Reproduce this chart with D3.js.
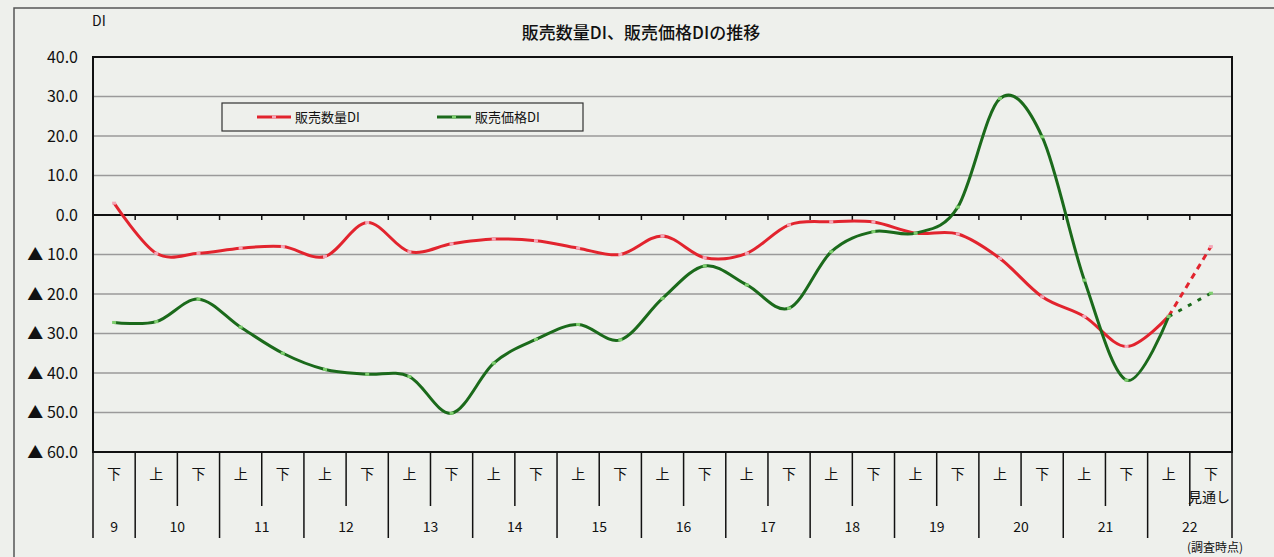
<!DOCTYPE html>
<html><head><meta charset="utf-8">
<script src="https://cdn.jsdelivr.net/npm/d3@7/dist/d3.min.js"></script>
<style>
body{margin:0;background:#eef0ec;}
svg{display:block}
text{font-family:"Noto Sans CJK JP","Liberation Sans",sans-serif;fill:#111;}
</style>
</head><body><svg id="c" width="1274" height="557"></svg>
<script>
const categories = ["9下","10上","10下","11上","11下","12上","12下","13上","13下","14上","14下","15上","15下",
  "16上","16下","17上","17下","18上","18下","19上","19下","20上","20下","21上","21下","22上","22下"];
const volumeDI = [3.0,-9.7,-9.7,-8.4,-8.0,-10.5,-1.9,-9.3,-7.3,-6.1,-6.5,-8.4,-10.0,
  -5.3,-10.8,-9.7,-2.5,-1.7,-1.8,-4.6,-4.8,-11.0,-20.7,-25.7,-33.3,-25.6,-8.0];
const priceDI = [-27.2,-27.0,-21.3,-28.4,-35.0,-39.1,-40.3,-40.9,-50.2,-37.5,-31.5,-27.7,-31.6,
  -21.1,-12.9,-17.7,-23.6,-9.3,-4.2,-4.6,2.0,29.5,19.8,-16.5,-41.8,-25.7,-19.8];
const yTicks = [40,30,20,10,0,-10,-20,-30,-40,-50,-60];
const seriesNames = ["販売数量DI","販売価格DI"];
const titleText = "販売数量DI、販売価格DIの推移";
const forecastLabel = "見通し";
const xAxisNote = "(調査時点)";

const svg = d3.select("#c");
const L = 93, R = 1232, T = 57, B = 452;
const x = d3.scaleBand().domain(categories).range([L, R]);
const bw = x.bandwidth();
const cx = c => x(c) + bw / 2;
const y = d3.scaleLinear().domain([-60, 40]).range([B, T]);

// outer frame
svg.append("rect").attr("x", 14).attr("y", 8).attr("width", 1300).attr("height", 600)
  .attr("fill", "#eef0ec").attr("stroke", "#555").attr("stroke-width", 1.5);

// title
svg.append("text").attr("x", 641).attr("y", 39).attr("text-anchor", "middle")
  .attr("font-size", 17).attr("font-weight", 500).text(titleText);
svg.append("text").attr("x", 92).attr("y", 26).attr("font-size", 14).text("DI");

// gridlines
svg.append("g").selectAll("line").data(yTicks.filter(v => v !== 0 && v !== 40 && v !== -60)).join("line")
  .attr("x1", L).attr("x2", R).attr("y1", d => y(d)).attr("y2", d => y(d))
  .attr("stroke", "#9a9a9a").attr("stroke-width", 1.5);

// y axis labels
const yAxis = d3.axisLeft(y).tickValues(yTicks).tickSize(0).tickPadding(15)
  .tickFormat(v => v < 0 ? "▲ " + Math.abs(v).toFixed(1) : v.toFixed(1));
const ga = svg.append("g").attr("transform", `translate(${L},0)`).call(yAxis);
ga.select(".domain").remove();
ga.selectAll("text").attr("font-size", 16).attr("font-family", "'Liberation Sans',sans-serif").attr("fill", "#111");

// plot border
svg.append("rect").attr("x", L).attr("y", T).attr("width", R - L).attr("height", B - T)
  .attr("fill", "none").attr("stroke", "#111").attr("stroke-width", 2);

// zero line with ticks
svg.append("line").attr("x1", L).attr("x2", R).attr("y1", y(0)).attr("y2", y(0))
  .attr("stroke", "#111").attr("stroke-width", 2);
const bounds = categories.map(c => x(c)).concat([R]);
svg.append("g").selectAll("line").data(bounds.slice(1, -1)).join("line")
  .attr("x1", d => d).attr("x2", d => d).attr("y1", y(0)).attr("y2", y(0) + 5)
  .attr("stroke", "#111").attr("stroke-width", 1.5);

// category axis below
const yearOf = c => c.slice(0, -1);
const halfOf = c => c.slice(-1);
svg.append("g").selectAll("line").data(bounds).join("line")
  .attr("x1", d => d).attr("x2", d => d).attr("y1", B)
  .attr("y2", (d, i) => {
    if (i === 0 || i === categories.length) return 538;
    return yearOf(categories[i - 1]) !== yearOf(categories[i]) ? 538 : 506;
  })
  .attr("stroke", "#111").attr("stroke-width", 1.5);
svg.append("g").selectAll("text").data(categories).join("text")
  .attr("x", d => cx(d)).attr("y", 479).attr("text-anchor", "middle").attr("font-size", 14)
  .text(d => halfOf(d));
const years = Array.from(new Set(categories.map(yearOf)));
svg.append("g").selectAll("text").data(years).join("text")
  .attr("x", yr => d3.mean(categories.filter(c => yearOf(c) === yr), cx))
  .attr("y", 532).attr("text-anchor", "middle").attr("font-size", 14)
  .attr("font-family", "'Liberation Sans',sans-serif").text(d => d);
svg.append("text").attr("x", 1230).attr("y", 502).attr("text-anchor", "end").attr("font-size", 14).text(forecastLabel);
svg.append("text").attr("x", 1187).attr("y", 552).attr("font-size", 12).text(xAxisNote);

// lines
const line = d3.line().x(d => cx(d.c)).y(d => y(d.v)).curve(d3.curveCardinal.tension(0));
function drawSeries(vals, color, markColor, dash) {
  const pts = categories.map((c, i) => ({c, v: vals[i]}));
  const n = pts.length;
  svg.append("path").datum(pts.slice(0, n - 1)).attr("d", line)
    .attr("fill", "none").attr("stroke", color).attr("stroke-width", 3);
  svg.append("path").datum(pts.slice(n - 2)).attr("d", d3.line().x(d => cx(d.c)).y(d => y(d.v)))
    .attr("fill", "none").attr("stroke", color).attr("stroke-width", 3).attr("stroke-dasharray", dash);
  svg.append("g").selectAll("rect").data(pts).join("rect")
    .attr("x", d => cx(d.c) - 2).attr("y", d => y(d.v) - 1.5).attr("width", 4).attr("height", 3)
    .attr("fill", markColor);
}
drawSeries(volumeDI, "#e2242e", "#f4a7b8", "6,5");
drawSeries(priceDI, "#1b6a1b", "#7fcf6f", "4,7");

// legend
const lg = svg.append("g");
lg.append("rect").attr("x", 222).attr("y", 103).attr("width", 361).attr("height", 28)
  .attr("fill", "#eef0ec").attr("stroke", "#333").attr("stroke-width", 1.2);
const legendItems = [{name: seriesNames[0], color: "#e2242e", mk: "#f4a7b8", x: 257},
                     {name: seriesNames[1], color: "#1b6a1b", mk: "#7fcf6f", x: 437}];
legendItems.forEach(it => {
  lg.append("line").attr("x1", it.x).attr("x2", it.x + 34).attr("y1", 117).attr("y2", 117)
    .attr("stroke", it.color).attr("stroke-width", 3);
  lg.append("rect").attr("x", it.x + 15).attr("y", 115.5).attr("width", 4).attr("height", 3).attr("fill", it.mk);
  lg.append("text").attr("x", it.x + 38).attr("y", 122).attr("font-size", 13).text(it.name);
});
</script>
</body></html>
